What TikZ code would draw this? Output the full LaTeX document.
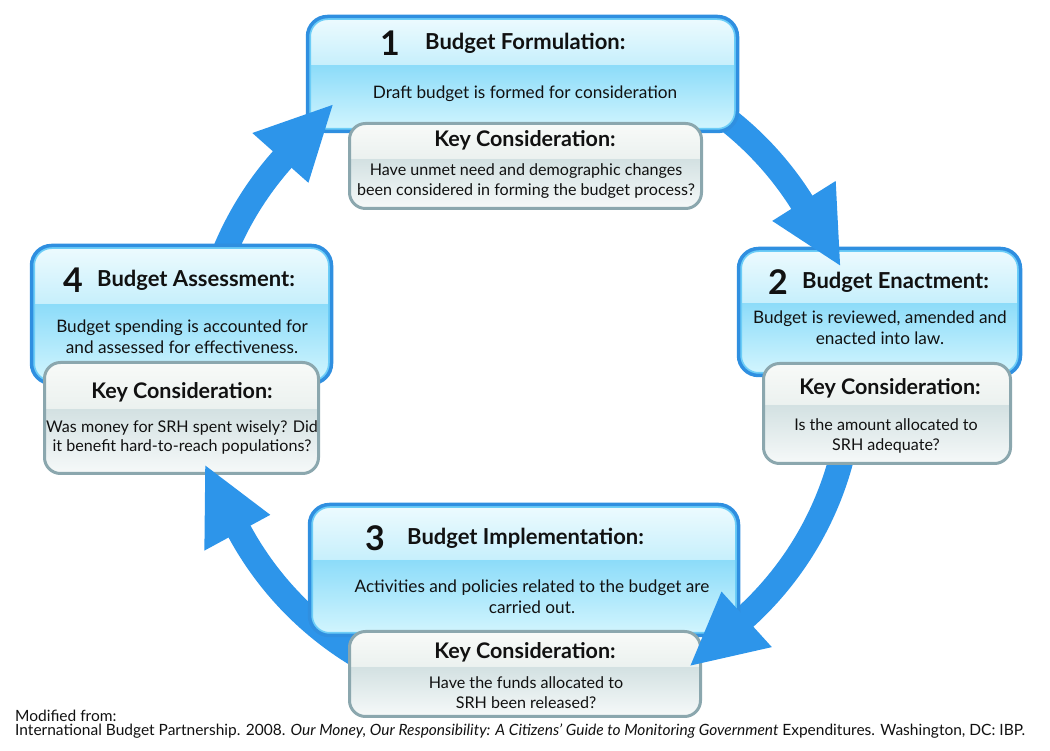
\documentclass[tikz,border=0pt]{standalone}
\usepackage{fontspec}
\setmainfont{Lato}
\usetikzlibrary{calc}
\definecolor{arrowblue}{HTML}{2D95EA}
\definecolor{boxblue}{HTML}{2F8FE0}
\definecolor{boxinner}{HTML}{6CCDF7}
\definecolor{bluetopA}{HTML}{EEFBFE}
\definecolor{bluetopB}{HTML}{C6EFFC}
\definecolor{bluelowA}{HTML}{8DDCF9}
\definecolor{bluelowB}{HTML}{D4F6FE}
\definecolor{keyborder}{HTML}{8BA7AE}
\definecolor{keytopA}{HTML}{F8FAF8}
\definecolor{keytopB}{HTML}{EBF1EF}
\definecolor{keylowA}{HTML}{D3E1E2}
\definecolor{keylowB}{HTML}{F6F9F9}
\definecolor{txt}{HTML}{111111}
\tikzset{
  stagebox/.style={draw=boxblue, line width=3.5pt, rounded corners=20pt, inner sep=0pt,
    path picture={
      \coordinate (pps) at ($(path picture bounding box.north west)!0.43!(path picture bounding box.south west)$);
      \shade[sharp corners, top color=bluetopA, bottom color=bluetopB] (path picture bounding box.north west) rectangle (path picture bounding box.east |- pps);
      \shade[sharp corners, top color=bluelowA, bottom color=bluelowB] (pps) rectangle (path picture bounding box.south east);
      \draw[draw=boxinner, line width=7pt, rounded corners=20pt] (path picture bounding box.north west) rectangle (path picture bounding box.south east);
    }},
  keybox/.style={draw=keyborder, line width=3pt, rounded corners=16pt, inner sep=0pt,
    path picture={
      \coordinate (pps) at ($(path picture bounding box.north west)!0.42!(path picture bounding box.south west)$);
      \shade[sharp corners, top color=keytopA, bottom color=keytopB] (path picture bounding box.north west) rectangle (path picture bounding box.east |- pps);
      \shade[sharp corners, top color=keylowA, bottom color=keylowB] (pps) rectangle (path picture bounding box.south east);
    }},
  shaft/.style={draw=arrowblue, line width=25pt},
  head/.style={fill=arrowblue},
  numtxt/.style={font=\fontsize{34}{36}\selectfont\bfseries, text=txt, inner sep=0pt, anchor=east},
  titletxt/.style={font=\fontsize{22}{24}\selectfont\bfseries, text=txt, inner sep=0pt, anchor=west},
  bodytxt/.style={font=\fontsize{17.2}{21}\selectfont, text=txt, inner sep=0pt, align=center},
  keytitle/.style={font=\fontsize{21.5}{24}\selectfont\bfseries, text=txt, inner sep=0pt},
  keybody/.style={font=\fontsize{16.1}{19.8}\selectfont, text=txt, inner sep=0pt, align=center},
  foottxt/.style={font=\fontsize{15.5}{16}\selectfont, text=txt, inner sep=0pt, anchor=west}
}
\begin{document}
\begin{tikzpicture}[x=1pt,y=1pt]
\useasboundingbox (0,0) rectangle (1050,750);
\coordinate (c) at (526,374);
% shafts (behind boxes)
\draw[shaft] ($(c)+(180:326)$) arc[start angle=180, end angle=137.4, radius=326];
\draw[shaft] ($(c)+(90:326)$) arc[start angle=90, end angle=31.2, radius=326];
\draw[shaft] ($(c)+(0:326)$) arc[start angle=0, end angle=-48.8, radius=326];
\draw[shaft] ($(c)+(270:326)$) arc[start angle=270, end angle=207.5, radius=326];
% stage boxes
\node[stagebox, minimum width=430pt, minimum height=115pt] (s1) at (522.5,676) {};
\node[stagebox, minimum width=282pt, minimum height=127pt] (s2) at (879.5,438) {};
\node[stagebox, minimum width=300pt, minimum height=138pt] (s4) at (181.5,435.5) {};
\node[stagebox, minimum width=429pt, minimum height=131pt] (s3) at (524,180) {};
% key boxes
\node[keybox, minimum width=352pt, minimum height=85pt] (k1) at (525.5,584) {};
\node[keybox, minimum width=247pt, minimum height=100pt] (k2) at (887,336.5) {};
\node[keybox, minimum width=274pt, minimum height=111pt] (k4) at (181.5,332) {};
\node[keybox, minimum width=351pt, minimum height=85pt] (k3) at (525,76) {};
% arrow heads (on top)
\fill[head] ($(c)+(138.4:291)$) -- ($(c)+(125.5:333)$) -- ($(c)+(138.4:366)$) -- cycle;
\fill[head] ($(c)+(32.2:291)$) -- ($(c)+(19.4:333)$) -- ($(c)+(32.2:366)$) -- cycle;
\fill[head] ($(c)+(-47.8:291)$) -- ($(c)+(-60.4:333)$) -- ($(c)+(-47.8:366)$) -- cycle;
\fill[head] ($(c)+(208.5:291)$) -- ($(c)+(195.6:333)$) -- ($(c)+(208.5:366)$) -- cycle;
% texts box 1
\node[numtxt] (n1) at (400,707) {1};
\node[titletxt] (t1) at (425,707) {Budget Formulation:};
\node[bodytxt] (b1) at (525,656) {Draft budget is formed for consideration};
\node[keytitle] (kt1) at (525,610) {Key Consideration:};
\node[keybody] (kb1) at (526,569) {Have unmet need and demographic changes\\been considered in forming the budget process?};
% box 2
\node[numtxt] (n2) at (788,468) {2};
\node[titletxt] (t2) at (802,468) {Budget Enactment:};
\node[bodytxt] (b2) at (880,422) {Budget is reviewed, amended and\\enacted into law.};
\node[keytitle] (kt2) at (890,362) {Key Consideration:};
\node[keybody] (kb2) at (886,314) {Is the amount allocated to\\SRH adequate?};
% box 4
\node[numtxt] (n4) at (83,470) {4};
\node[titletxt] (t4) at (97,470) {Budget Assessment:};
\node[bodytxt] (b4) at (182,413) {Budget spending is accounted for\\and assessed for effectiveness.};
\node[keytitle] (kt4) at (182,358) {Key Consideration:};
\node[keybody] (kb4) at (182,312.5) {Was money for SRH spent wisely? Did\\it benefit hard-to-reach populations?};
% box 3
\node[numtxt] (n3) at (385,212) {3};
\node[titletxt] (t3) at (407,212) {Budget Implementation:};
\node[bodytxt] (b3) at (532,153) {Activities and policies related to the budget are\\carried out.};
\node[keytitle] (kt3) at (525,98) {Key Consideration:};
\node[keybody] (kb3) at (526,57.5) {Have the funds allocated to\\SRH been released?};
% footer
\node[foottxt] (f1) at (15,34) {Modified from:};
\node[foottxt] (f2) at (15,19) {International Budget Partnership. 2008. \textit{Our Money, Our Responsibility: A Citizens’ Guide to Monitoring Government} Expenditures. Washington, DC: IBP.};
\end{tikzpicture}
\end{document}
